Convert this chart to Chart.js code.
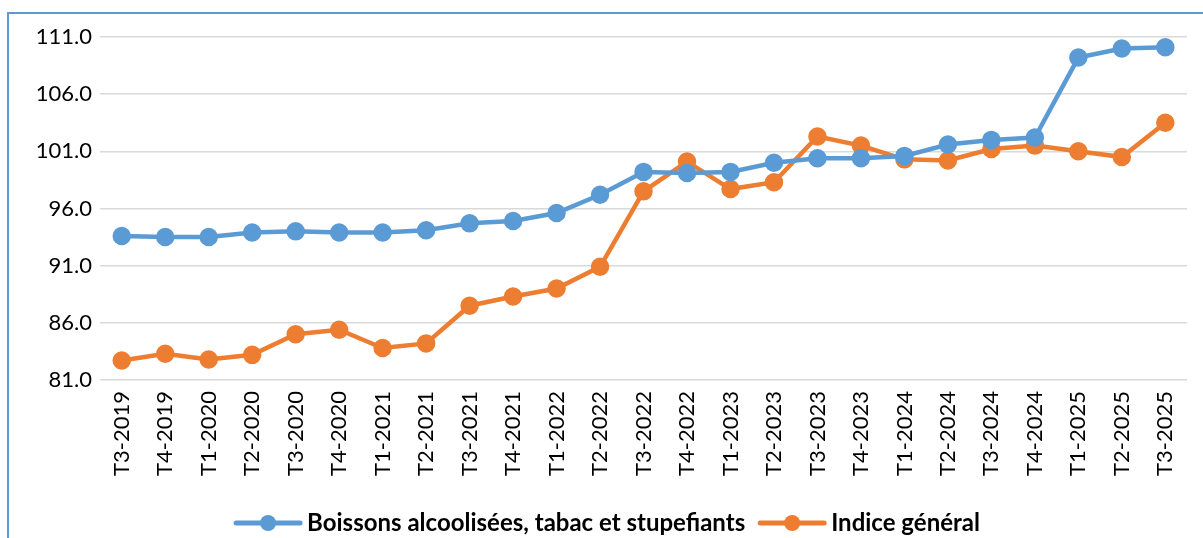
<!DOCTYPE html>
<html>
<head>
<meta charset="utf-8">
<script src="https://cdn.jsdelivr.net/npm/chart.js@4"></script>
<style>
  html, body { margin: 0; padding: 0; background: #fff; overflow: hidden; }
  #wrap { position: relative; width: 1203px; height: 538px; }
  #frame { position: absolute; left: 7px; top: 12px; width: 1400px; height: 700px; border: 2px solid #5B9BD5; box-sizing: border-box; }
  canvas { position: absolute; left: 0; top: 0; }
</style>
</head>
<body>
<div id="wrap">
  <div id="frame"></div>
  <canvas id="c" width="1203" height="538"></canvas>
</div>
<script>
const categories = ["T3-2019","T4-2019","T1-2020","T2-2020","T3-2020","T4-2020","T1-2021","T2-2021","T3-2021","T4-2021","T1-2022","T2-2022","T3-2022","T4-2022","T1-2023","T2-2023","T3-2023","T4-2023","T1-2024","T2-2024","T3-2024","T4-2024","T1-2025","T2-2025","T3-2025"];
const boissons = [93.6,93.5,93.5,93.9,94.0,93.9,93.9,94.1,94.7,94.9,95.6,97.2,99.2,99.1,99.2,100.0,100.4,100.4,100.6,101.6,102.0,102.2,109.2,110.0,110.1];
const indiceGeneral = [82.7,83.3,82.8,83.2,85.0,85.4,83.8,84.2,87.5,88.3,89.0,90.9,97.5,100.1,97.7,98.3,102.3,101.5,100.3,100.2,101.2,101.5,101.0,100.5,103.5];
const yTicks = [81,86,91,96,101,106,111];
const seriesNames = ["Boissons alcoolisées, tabac et stupefiants", "Indice général"];

const legendPlugin = {
  id: 'customLegend',
  afterDraw(chart) {
    const ctx = chart.ctx;
    const y = 522;
    const sx = 1.0;
    ctx.save();
    ctx.font = 'bold 24px Lato';
    ctx.textBaseline = 'middle';
    const lineLen = 64, gapText = 7, gapItem = 15;
    const items = chart.data.datasets.map(d => ({label: d.label, color: d.borderColor, w: ctx.measureText(d.label).width * sx}));
    let total = 0;
    items.forEach((it, i) => { total += lineLen + gapText + it.w + (i < items.length - 1 ? gapItem : 0); });
    let x = 608 - total / 2;
    items.forEach(it => {
      ctx.strokeStyle = it.color;
      ctx.lineWidth = 5;
      ctx.lineCap = 'round';
      ctx.beginPath(); ctx.moveTo(x, y + 1); ctx.lineTo(x + lineLen, y + 1); ctx.stroke();
      ctx.fillStyle = it.color;
      ctx.beginPath(); ctx.arc(x + lineLen / 2, y + 1, 8, 0, Math.PI * 2); ctx.fill();
      ctx.fillStyle = '#000';
      ctx.save();
      ctx.translate(x + lineLen + gapText, y + 1);
      ctx.scale(sx, 1.05);
      ctx.fillText(it.label, 0, 0);
      ctx.restore();
      x += lineLen + gapText + it.w + gapItem;
    });
    ctx.restore();
  }
};

new Chart(document.getElementById('c'), {
  type: 'line',
  data: {
    labels: categories,
    datasets: [
      { label: seriesNames[0], data: boissons, borderColor: '#5B9BD5', backgroundColor: '#5B9BD5', pointBackgroundColor: '#5B9BD5', pointBorderColor: '#5B9BD5', borderWidth: 4.5, pointRadius: 7, tension: 0 },
      { label: seriesNames[1], data: indiceGeneral, borderColor: '#ED7D31', backgroundColor: '#ED7D31', pointBackgroundColor: '#ED7D31', pointBorderColor: '#ED7D31', borderWidth: 4.5, pointRadius: 7, tension: 0 }
    ]
  },
  options: {
    responsive: false,
    animation: false,
    devicePixelRatio: 1,
    layout: { padding: { left: 0, top: 37, right: 14, bottom: 0 } },
    plugins: { legend: { display: false }, tooltip: { enabled: false } },
    scales: {
      x: {
        offset: true,
        grid: { display: false, drawTicks: false },
        border: { display: false },
        ticks: { minRotation: 90, maxRotation: 90, autoSkip: false, color: '#000', font: { family: 'Lato', size: 22 }, padding: 11 },
        afterFit(s) { s.height = 158; }
      },
      y: {
        min: 81, max: 111,
        afterBuildTicks(s) { s.ticks = yTicks.map(v => ({ value: v })); },
        grid: { color: '#d9d9d9', lineWidth: 1.5, drawTicks: false },
        border: { display: false },
        ticks: { color: '#000', font: { family: 'Lato', size: 22 }, padding: 8, callback: v => Number(v).toFixed(1) },
        afterFit(s) { s.width = 100; }
      }
    }
  },
  plugins: [legendPlugin]
});
</script>
</body>
</html>
